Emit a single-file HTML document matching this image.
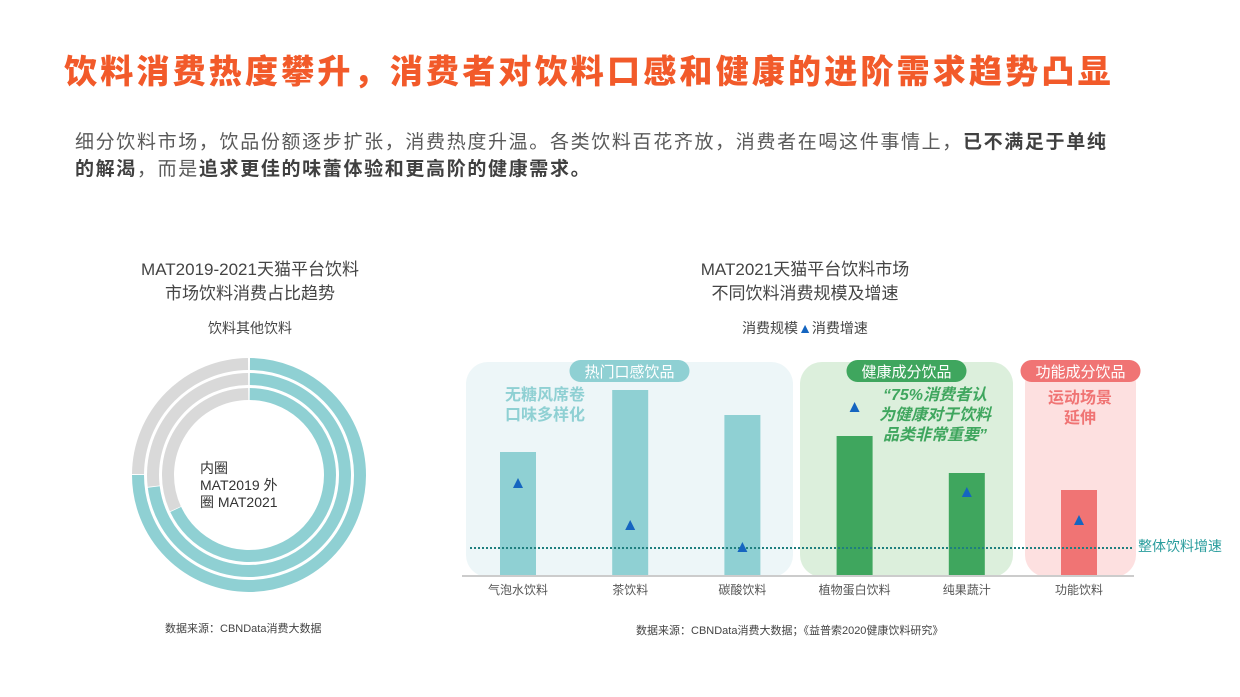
<!DOCTYPE html>
<html><head><meta charset="utf-8"><style>
body{margin:0;width:1240px;height:697px;background:#fff;overflow:hidden;position:relative;font-family:"Liberation Sans","Noto Sans CJK SC",sans-serif}
.abs{position:absolute;white-space:nowrap}
</style></head><body>
<div class="abs" style="left:64px;top:45px;font-size:33px;font-weight:900;color:#f25a2a;letter-spacing:3.2px">饮料消费热度攀升，消费者对饮料口感和健康的进阶需求趋势凸显</div>
<div class="abs" style="left:75px;top:129px;font-size:19px;line-height:27px;color:#5a5a5a;letter-spacing:1.65px">细分饮料市场，饮品份额逐步扩张，消费热度升温。各类饮料百花齐放，消费者在喝这件事情上，<b style="color:#404040">已不满足于单纯</b><br><b style="color:#404040">的解渴</b>，而是<b style="color:#404040">追求更佳的味蕾体验和更高阶的健康需求。</b></div>

<div class="abs" style="left:120px;width:260px;top:258px;text-align:center;font-size:17px;line-height:24px;color:#444">MAT2019-2021天猫平台饮料<br>市场饮料消费占比趋势</div>
<div class="abs" style="left:120px;width:260px;top:318px;text-align:center;font-size:14px;color:#444">饮料其他饮料</div>
<svg class="abs" style="left:0;top:0" width="1240" height="697" id="svg">
<g id="donut"></g>
<g id="bars"></g>
</svg>
<div class="abs" style="left:200px;top:460px;font-size:14px;line-height:17px;color:#333">内圈<br>MAT2019 外<br>圈 MAT2021</div>
<div class="abs" style="left:165px;top:620px;font-size:11px;color:#444">数据来源：CBNData消费大数据</div>

<div class="abs" style="left:600px;width:410px;top:258px;text-align:center;font-size:17px;line-height:24px;color:#444">MAT2021天猫平台饮料市场<br>不同饮料消费规模及增速</div>
<div class="abs" style="left:600px;width:410px;top:318px;text-align:center;font-size:14px;color:#444">消费规模<span style="color:#1565c0">▲</span>消费增速</div>
<div class="abs" style="left:636px;top:622px;font-size:11px;color:#444">数据来源：CBNData消费大数据；《益普索2020健康饮料研究》</div>
<div class="abs" style="left:1138px;top:536px;font-size:14px;color:#2a9d9d">整体饮料增速</div>
<script>
const categories=["气泡水饮料","茶饮料","碳酸饮料","植物蛋白饮料","纯果蔬汁","功能饮料"];
const sizeValues=[123,185,160,139,102,85];
const growthValues=[42,21,10,80,37.5,23.5];
const overallGrowth=10;
const groupOf=[0,0,0,1,1,2];
const ringShares=[75,73,68];
const NS="http://www.w3.org/2000/svg";
function mk(t,a,p){const e=document.createElementNS(NS,t);for(const k in a)e.setAttribute(k,a[k]);p.appendChild(e);return e;}
const dg=document.getElementById('donut');const cx=249,cy=475;
const radii=[111,96,81];
function arcPath(r,a0,a1){const p=a=>[cx+r*Math.sin(a*Math.PI/180),cy-r*Math.cos(a*Math.PI/180)];const [x0,y0]=p(a0),[x1,y1]=p(a1);const large=(a1-a0)>180?1:0;return `M${x0} ${y0} A${r} ${r} 0 ${large} 1 ${x1} ${y1}`;}
ringShares.forEach((s,i)=>{const deg=s*3.6;
 const t=mk('path',{d:arcPath(radii[i],0.5,deg),stroke:'#8fd0d3','stroke-width':12,fill:'none'},dg);
 
 
 const g=mk('path',{d:arcPath(radii[i],deg+0.5,359.5),stroke:'#d9d9d9','stroke-width':12,fill:'none'},dg);
 
 
});
const bg=document.getElementById('bars');
const x0=518,step=112.2,base=575;
const xs=i=>x0+i*step;const yS=v=>base-v;const yG=g=>568-2*g;
const panels=[[466,793,'#edf6f8','#8fd0d3','热门口感饮品'],[800,1013,'#dcefdc','#3fa65e','健康成分饮品'],[1025,1136,'#fde0e0','#f07474','功能成分饮品']];
panels.forEach((p,i)=>{const r=mk('rect',{x:p[0],y:362,width:p[1]-p[0],height:215,rx:22,fill:p[2]},bg);
 
 
 const w=p[4].length*16+24,cxp=(p[0]+p[1])/2;
 mk('rect',{x:cxp-w/2,y:360,width:w,height:22,rx:11,fill:p[3]},bg);
 const t=mk('text',{x:cxp,y:377,'text-anchor':'middle','font-size':15,fill:'#fff'},bg);t.textContent=p[4];
 
 
});
const notes=[[545,400,'#8fd0d3',['无糖风席卷','口味多样化'],0],[935,400,'#3fa65e',['“75%消费者认','为健康对于饮料','品类非常重要”'],1],[1080,403,'#f07474',['运动场景','延伸'],0]];
notes.forEach((n,i)=>{n[3].forEach((l,j)=>{const t=mk('text',{x:n[0],y:n[1]+j*20,'text-anchor':'middle','font-size':16,'font-weight':'bold',fill:n[2],'font-style':n[4]?'italic':'normal'},bg);t.textContent=l;
 
 });});
const colors=['#8fd0d3','#3fa65e','#f07474'];
categories.forEach((c,i)=>{
 const b=mk('rect',{x:xs(i)-18,y:yS(sizeValues[i]),width:36,height:sizeValues[i],fill:colors[groupOf[i]]},bg);
 
 
 const l=mk('text',{x:xs(i),y:594,'text-anchor':'middle','font-size':12,fill:'#555'},bg);l.textContent=c;
 
 
});
mk('line',{x1:462,y1:576,x2:1134,y2:576,stroke:'#ccc','stroke-width':2},bg);
const ol=mk('line',{x1:470,y1:yG(overallGrowth),x2:1134,y2:yG(overallGrowth),stroke:'#1f7f7f','stroke-width':2,'stroke-dasharray':'2 2'},bg);


categories.forEach((c,i)=>{const x=xs(i),y=yG(growthValues[i]);
 const t=mk('path',{d:`M${x} ${y-6}L${x+5} ${y+4}L${x-5} ${y+4}Z`,fill:'#1565c0'},bg);
 
 });
</script>
</body></html>
